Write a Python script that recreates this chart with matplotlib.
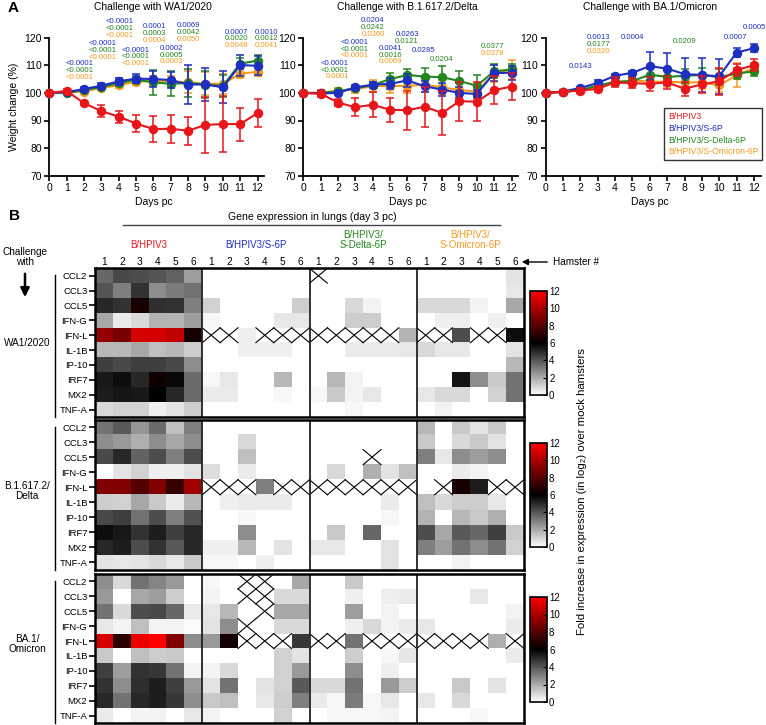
import numpy as np
import matplotlib
matplotlib.use('Agg')
import matplotlib.pyplot as plt
from matplotlib.colors import LinearSegmentedColormap
from matplotlib.lines import Line2D
from matplotlib.patches import FancyArrowPatch

plt.rcParams['font.family'] = ['Liberation Sans', 'DejaVu Sans']

nan = np.nan
# ---------------- Panel A data ----------------
days = list(range(13))
series_names = ['B/HPIV3', 'B/HPIV3/S-6P', 'B/HPIV3/S-Delta-6P', 'B/HPIV3/S-Omicron-6P']
series_colors = ['#e8161b', '#1c2fc0', '#23851f', '#f39a1e']

wa1_red = [100, 100.7, 96.3, 93.4, 91.4, 88.9, 86.9, 87.0, 86.3, 88.4, 88.7, 88.7, 92.7]
wa1_red_err = [0, 0.6, 0.8, 2.1, 2.2, 3.0, 4.8, 5.0, 5.0, 10.0, 10.0, 6.0, 5.1]
wa1_blue = [100, 100.3, 101.4, 102.6, 104.2, 105.2, 105.0, 104.7, 103.0, 103.1, 102.0, 110.1, 109.8]
wa1_blue_err = [0, 0.4, 0.6, 1.0, 1.2, 1.6, 2.8, 2.9, 7.0, 6.0, 5.8, 3.8, 3.4]
wa1_green = [100, 100.1, 101.0, 102.2, 103.5, 104.8, 103.8, 103.3, 103.6, 103.0, 102.5, 110.6, 111.7]
wa1_green_err = [0, 0.4, 0.6, 0.8, 1.0, 1.2, 4.5, 4.5, 5.0, 5.0, 4.0, 2.0, 2.0]
wa1_orange = [100, 100.2, 100.5, 101.8, 102.8, 104.0, 104.5, 104.2, 103.8, 103.4, 103.2, 107.0, 107.6]
wa1_orange_err = [0, 0.4, 0.6, 0.8, 1.0, 1.2, 1.5, 2.0, 4.0, 4.0, 3.5, 1.5, 1.5]

delta_red = [100, 99.7, 96.5, 94.8, 95.7, 93.9, 93.7, 95.0, 92.7, 97.0, 96.8, 101.0, 102.3]
delta_red_err = [0, 1.2, 1.3, 3.3, 4.5, 4.3, 7.0, 7.3, 8.0, 7.0, 7.0, 5.0, 5.0]
delta_blue = [100, 99.8, 100.0, 102.0, 103.0, 103.3, 104.5, 102.4, 101.2, 100.0, 99.6, 107.2, 107.3]
delta_blue_err = [0, 0.5, 0.6, 0.8, 1.0, 2.0, 2.3, 2.0, 2.5, 2.0, 1.5, 3.0, 2.5]
delta_green = [100, 100.0, 100.6, 101.7, 102.8, 105.0, 106.5, 105.9, 105.7, 104.3, 102.6, 107.8, 108.5]
delta_green_err = [0, 0.5, 0.6, 0.8, 1.0, 2.2, 2.3, 3.0, 4.0, 3.5, 4.0, 2.5, 2.0]
delta_orange = [100, 100.0, 100.8, 101.3, 102.5, 102.5, 102.5, 103.0, 102.0, 101.0, 100.5, 107.0, 108.5]
delta_orange_err = [0, 0.6, 0.8, 1.5, 2.0, 2.5, 2.5, 2.5, 2.5, 2.5, 3.0, 3.0, 3.5]

omi_red = [100, 100.5, 100.8, 101.5, 103.8, 103.5, 103.3, 103.8, 101.5, 103.1, 104.2, 108.3, 110.0]
omi_red_err = [0, 0.5, 0.8, 1.0, 1.8, 1.8, 2.5, 2.5, 2.5, 3.0, 5.0, 2.0, 2.2]
omi_blue = [100, 100.5, 101.8, 103.6, 106.2, 107.3, 109.7, 108.8, 106.8, 106.5, 106.0, 114.6, 116.2]
omi_blue_err = [0, 0.4, 0.5, 1.0, 0.6, 0.5, 5.0, 5.8, 5.8, 6.2, 6.3, 1.5, 1.4]
omi_green = [100, 100.3, 101.0, 102.7, 104.0, 104.3, 106.6, 105.8, 106.2, 106.5, 105.7, 107.0, 107.8]
omi_green_err = [0, 0.4, 0.5, 0.8, 1.0, 1.5, 2.0, 2.5, 2.5, 2.5, 3.0, 2.0, 1.5]
omi_orange = [100, 100.3, 101.0, 102.3, 103.8, 104.5, 104.1, 104.0, 103.8, 103.8, 102.7, 106.4, 109.0]
omi_orange_err = [0, 0.4, 0.5, 0.8, 1.2, 1.5, 1.5, 2.0, 2.0, 2.5, 2.5, 4.3, 2.0]

# p-value labels: (right edge in days, top line y, [blue, green, orange])
wa1_pvals = [
    (2.55, 110.5, ['<0.0001', '<0.0001', '<0.0001']),
    (3.90, 117.8, ['<0.0001', '<0.0001', '<0.0001']),
    (4.86, 125.8, ['<0.0001', '<0.0001', '<0.0001']),
    (5.79, 115.5, ['<0.0001', '<0.0001', '<0.0001']),
    (6.74, 124.0, ['0.0001', '0.0003', '0.0004']),
    (7.72, 116.1, ['0.0002', '0.0005', '0.0003']),
    (8.69, 124.4, ['0.0069', '0.0042', '0.0050']),
    (11.49, 122.0, ['0.0007', '0.0020', '0.0048']),
    (13.20, 122.0, ['0.0010', '0.0012', '0.0041']),
]
delta_pvals = [
    (2.63, 110.7, ['<0.0001', '<0.0001', '0.0001']),
    (3.74, 118.3, ['<0.0001', '<0.0001', '<0.0001']),
    (4.70, 126.2, ['0.0204', '0.0242', '0.0360']),
    (5.72, 116.1, ['0.0041', '0.0016', '0.0069']),
    (6.66, 121.2, ['0.0263', '0.0121', None]),
    (7.64, 115.2, ['0.0285', None, None]),
    (8.64, 114.7, [None, '0.0204', None]),
    (11.57, 119.1, [None, '0.0377', '0.0378']),
]
omi_pvals = [
    (2.70, 109.5, ['0.0143', None, None]),
    (3.73, 120.0, ['0.0013', '0.0177', '0.0320']),
    (5.70, 120.0, ['0.0004', None, None]),
    (8.66, 121.2, [None, '0.0209', None]),
    (11.63, 120.0, ['0.0007', None, None]),
    (12.68, 123.6, ['0.0005', None, None]),
]

# ---------------- Panel B data ----------------
genes = ['CCL2', 'CCL3', 'CCL5', 'IFN-G', 'IFN-L', 'IL-1B', 'IP-10', 'IRF7', 'MX2', 'TNF-A']
groups = ['B/HPIV3', 'B/HPIV3/S-6P', 'B/HPIV3/\nS-Delta-6P', 'B/HPIV3/\nS-Omicron-6P']
hamsters = [1, 2, 3, 4, 5, 6]
challenges = ['WA1/2020', 'B.1.617.2/\nDelta', 'BA.1/\nOmicron']

wa1_heat = [
    [3.6, 4.3, 4.2, 4.0, 3.7, 2.3,  0, 0, 0, 0, 0, 0,  nan, 0, 0, 0, 0, 0,  0, 0, 0, 0, 0, 0.7],
    [4.0, 3.0, 4.8, 2.7, 3.1, 3.3,  0, 0, 0, 0, 0, 0,  0, 0, 0, 0, 0, 0,  0, 0, 0, 0, 0, 0.6],
    [5.1, 4.8, 6.6, 4.9, 4.8, 3.0,  1.1, 0, 0, 0, 0, 1.2,  0, 0, 0.9, 0.3, 0, 0,  0.9, 0.9, 0.9, 0.3, 0, 2.1],
    [2.1, 0.5, 0.9, 1.8, 1.8, 2.3,  0.2, 0, 0, 0, 0.6, 0.6,  0, 0, 1.2, 1.2, 0, 0,  0, 0.4, 0.4, 0, 0.4, 0],
    [9.5, 8.8, 11.0, 11.0, 10.5, 6.5,  nan, nan, 0.4, nan, nan, nan,  nan, nan, nan, nan, nan, 1.8,  nan, nan, 4.2, nan, nan, 5.7],
    [1.7, 1.7, 2.1, 1.5, 1.7, 1.2,  0, 0, 0.4, 0.4, 0.4, 0,  0, 0, 0.5, 0.5, 0.5, 0.6,  0.9, 0.6, 0.6, 0, 0, 0.7],
    [4.5, 4.3, 4.5, 4.5, 4.3, 2.7,  0, 0, 0, 0, 0, 0,  0, 0, 0, 0, 0, 0,  0, 0, 0, 0, 0, 1.7],
    [5.4, 5.7, 5.1, 6.4, 5.8, 3.5,  0.2, 0.6, 0, 0, 1.7, 0,  0, 1.7, 0.3, 0, 0, 0,  0, 0, 5.5, 2.7, 1.3, 3.3],
    [5.3, 5.5, 5.4, 6.0, 5.1, 3.5,  0.5, 0.5, 0, 0, 0.2, 0,  0.2, 1.3, 0.3, 0.6, 0, 0,  0.6, 0.9, 0.9, 0, 1.1, 3.3],
    [0.9, 1.1, 1.1, 0.4, 0.7, 1.2,  0, 0, 0, 0, 0, 0,  0, 0, 0.2, 0, 0, 0,  0, 0.3, 0, 0, 0, 0],
]
delta_heat = [
    [3.3, 3.9, 2.5, 3.5, 1.5, 3.0,  0, 0, 0, 0, 0, 0,  0, 0, 0, 0, 0, 0,  1.7, 0, 1.3, 0.7, 1.3, 0],
    [2.7, 2.4, 1.9, 2.7, 2.1, 2.7,  0, 0, 0.9, 0, 0, 0,  0, 0, 0, 0, 0, 0,  1.3, 0, 0.9, 1.3, 0.7, 0],
    [4.3, 5.1, 3.7, 4.2, 3.0, 4.2,  0, 0, 1.5, 0, 0, 0,  0, 0, 0, nan, 0, 0,  3.0, 0.6, 2.7, 2.3, 2.7, 0],
    [0, 0.7, 1.1, 0.4, 0.4, 0.7,  0.8, 0, 0.5, 0, 0, 0,  0, 0.9, 0, 1.9, 0.7, 1.5,  0, 0, 0.5, 0.3, 0, 0],
    [9.0, 9.0, 8.0, 9.0, 7.3, 9.8,  nan, nan, nan, 3.0, nan, nan,  nan, nan, nan, nan, nan, nan,  0, nan, 6.6, 5.3, nan, nan],
    [1.2, 1.1, 2.1, 1.3, 0.5, 1.7,  0, 0.4, 0.5, 0.5, 0.5, 0,  0, 0, 0, 0, 0.5, 0,  1.5, 0.9, 1.2, 1.2, 0.6, 0],
    [4.3, 4.5, 3.3, 4.2, 3.0, 4.1,  0, 0, 0.2, 0, 0, 0,  0, 0, 0, 0, 0.2, 0,  1.8, 0, 1.7, 1.3, 1.9, 0],
    [5.7, 5.4, 4.8, 5.3, 4.5, 5.1,  0, 0, 2.7, 0, 0, 0,  0, 1.3, 0, 3.6, 0, 0,  4.2, 2.1, 3.9, 3.6, 4.5, 1.3],
    [5.1, 5.3, 4.2, 4.8, 3.9, 5.1,  0.4, 0.4, 1.7, 0, 0.7, 0,  0.6, 0.6, 0, 0, 0.7, 0,  3.0, 2.3, 3.3, 2.7, 3.3, 1.1],
    [0.7, 0.6, 0.7, 0.9, 0.6, 1.3,  0.2, 0.2, 0, 0.4, 0, 0,  0, 0, 0, 0, 0.7, 0,  0, 0, 0.3, 0, 0, 0],
]
omi_heat = [
    [2.7, 0.9, 3.3, 2.9, 2.4, 0,  0.2, 0, nan, nan, 0, 2.1,  0, 0, 1.3, 0, 0, 0,  0, 0, 0, 0, 0, 0],
    [2.4, 0, 2.1, 2.3, 1.2, 0,  0.3, 0, nan, nan, 0.9, 0.9,  0, 0, 0.4, 0, 0.4, 0.5,  0, 0, 0, 0.6, 0, 0],
    [3.3, 0.9, 4.2, 4.3, 3.6, 0.5,  0.6, 1.7, 0, nan, 2.1, 2.1,  0, 0, 2.3, 0, 0.3, 0,  0, 0, 0, 0, 0, 0.3],
    [0.6, 0.3, 1.5, 0.3, 0.3, 0.1,  0.7, 2.7, nan, 0, 0.9, 0.9,  0, 0, 0.4, 0.9, 0.3, 0.5,  0.6, 0, 0, 0, 0, 0.5],
    [11.0, 7.0, 11.5, 12.0, 9.0, 2.7,  2.4, 6.5, nan, nan, nan, 4.7,  nan, nan, 3.3, nan, nan, nan,  nan, nan, nan, nan, 1.9, nan],
    [1.3, 0, 1.5, 1.2, 1.3, 0,  0, 0, 0, 0, 1.1, 0.7,  0, 0, 1.2, 0, 0.2, 0.6,  0, 0, 0, 0, 0, 0.5],
    [4.5, 2.3, 4.8, 4.7, 3.3, 0.3,  0.3, 0.9, 0, 0, 1.1, 2.4,  0, 0, 2.7, 0, 0.4, 0,  0, 0, 0, 0, 0, 0],
    [4.8, 2.7, 4.9, 5.3, 4.5, 2.4,  0.7, 3.3, 0, 0.7, 1.1, 3.9,  0.9, 0.9, 3.3, 0, 2.4, 1.2,  0, 0, 1.3, 0, 0.7, 0],
    [5.1, 3.3, 5.1, 5.3, 4.7, 2.7,  1.3, 1.5, 0, 0.6, 1.2, 3.0,  0.5, 0.2, 3.1, 0.2, 0.6, 0,  0.6, 0, 0.9, 0, 0, 0],
    [0.5, 0, 0.3, 0.3, 0, 0.6,  0.3, 0, 0, 0, 1.1, 0,  0, 0.2, 0.2, 0.2, 0.3, 0,  0, 0, 0, 0.2, 0, 0],
]

# ---------------- figure ----------------
W, H = 766, 725
fig = plt.figure(figsize=(W / 100, H / 100), dpi=100)


def add_ax(x0, y0, x1, y1):
    return fig.add_axes([x0 / W, 1 - y1 / H, (x1 - x0) / W, (y1 - y0) / H])


def ftext(x, y, s, **kw):
    return fig.text(x / W, 1 - y / H, s, **kw)


ftext(13, 8, 'A', fontsize=11, fontweight='bold', ha='center', va='center')
ftext(14, 216, 'B', fontsize=11, fontweight='bold', ha='center', va='center')

panelA = [
    (49.3, 'Challenge with WA1/2020',
     [(wa1_orange, wa1_orange_err), (wa1_green, wa1_green_err), (wa1_blue, wa1_blue_err), (wa1_red, wa1_red_err)],
     wa1_pvals),
    (303.3, 'Challenge with B.1.617.2/Delta',
     [(delta_orange, delta_orange_err), (delta_green, delta_green_err), (delta_blue, delta_blue_err), (delta_red, delta_red_err)],
     delta_pvals),
    (545.7, 'Challenge with BA.1/Omicron',
     [(omi_orange, omi_orange_err), (omi_green, omi_green_err), (omi_blue, omi_blue_err), (omi_red, omi_red_err)],
     omi_pvals),
]
draw_colors = [series_colors[3], series_colors[2], series_colors[1], series_colors[0]]
pxday = 17.35
for i, (x0, title, sers, pvals) in enumerate(panelA):
    ax = add_ax(x0, 37.7, x0 + 12.4 * pxday, 175.7)
    for k, ((vals, errs), c) in enumerate(zip(sers, draw_colors)):
        cont = ax.errorbar(days, vals, yerr=errs, color=c, marker='o', ms=5.8, lw=1.5,
                           capsize=2.6, elinewidth=1.1, capthick=1.1, zorder=3 + k)
        cont.lines[0].set_clip_on(False)
        for art in cont.lines[1]:
            art.set_clip_on(False)
        for art in cont.lines[2]:
            art.set_clip_on(False)
    ax.set_xlim(0, 12.4)
    ax.set_ylim(70, 120)
    ax.set_xticks(range(13))
    ax.set_yticks(range(70, 121, 10))
    for s in ['top', 'right']:
        ax.spines[s].set_visible(False)
    for s in ['left', 'bottom']:
        ax.spines[s].set_linewidth(1.3)
    ax.tick_params(labelsize=7.5, width=1.2, length=3.5, pad=2)
    ftext(x0 + 6 * pxday, 7, title, fontsize=7.4, ha='center', va='center')
    ftext(x0 + 6 * pxday, 202, 'Days pc', fontsize=7.5, ha='center', va='center')
    pcols = [series_colors[1], series_colors[2], series_colors[3]]
    for (xr, ytop, texts) in pvals:
        for j, (t, pc) in enumerate(zip(texts, pcols)):
            if t is None:
                continue
            ax.text(xr, ytop - 2.45 * j, t, color=pc, fontsize=5.6, ha='right', va='center',
                    clip_on=False, zorder=10)
    if i == 0:
        ftext(14, 107, 'Weight change (%)', rotation=90, fontsize=7.5, ha='center', va='center')
    if i == 2:
        handles = [Line2D([], [], lw=0) for _ in series_names]
        leg = ax.legend(handles, series_names, loc='upper left',
                        bbox_to_anchor=(664 / W, 1 - 108 / H), bbox_transform=fig.transFigure,
                        handlelength=0, handletextpad=0, fontsize=6.2, frameon=True,
                        fancybox=False, edgecolor='black', borderpad=0.45, labelspacing=0.33,
                        borderaxespad=0)
        leg.get_frame().set_linewidth(1.0)
        for t, c in zip(leg.get_texts(), series_colors):
            t.set_color(c)

# ---------------- Panel B ----------------
cmap = LinearSegmentedColormap.from_list('wkr', [(0, 'white'), (0.5, 'black'), (1.0, '#ff0000')])
cmap.set_bad('white')

hx0, hx1 = 95, 524
cw = (hx1 - hx0) / 24
blocks = [(268.3, 417.0, wa1_heat), (419.5, 570.0, delta_heat), (574.0, 723.0, omi_heat)]
cbars = [(291, 395), (443, 547), (597, 702)]
label_y = [343, 491, 644]

ftext(312, 217, 'Gene expression in lungs (day 3 pc)', fontsize=7.6, ha='center', va='center')
fig.add_artist(Line2D([123 / W, 500 / W], [1 - 225 / H, 1 - 225 / H], color='#444444', lw=1.0))

for g, (name, c) in enumerate(zip(groups, series_colors)):
    cx = hx0 + (g * 6 + 3) * cw
    ftext(cx, 250, name, fontsize=7, color=c, ha='center', va='bottom', linespacing=1.05)
    for h in hamsters:
        ftext(hx0 + (g * 6 + h - 0.5) * cw, 262, str(h), fontsize=7.3, ha='center', va='center')

ftext(553, 262, 'Hamster #', fontsize=7.2, ha='left', va='center')
fig.add_artist(FancyArrowPatch((550 / W, 1 - 262 / H), (519 / W, 1 - 262 / H),
                               transform=fig.transFigure, arrowstyle='-|>', mutation_scale=9,
                               lw=1.0, color='black'))
ftext(25, 252, 'Challenge', fontsize=7.2, ha='center', va='center')
ftext(25, 262, 'with', fontsize=7.2, ha='center', va='center')
fig.add_artist(FancyArrowPatch((25 / W, 1 - 271 / H), (25 / W, 1 - 300 / H),
                               transform=fig.transFigure, arrowstyle='-|>', mutation_scale=13,
                               lw=1.8, color='black'))

for b, ((y0, y1, data), (cb0, cb1), ly, chal) in enumerate(zip(blocks, cbars, label_y, challenges)):
    arr = np.array(data, dtype=float)
    ax = add_ax(hx0, y0, hx1, y1)
    im = ax.imshow(arr, cmap=cmap, vmin=0, vmax=12, aspect='auto', interpolation='nearest',
                   extent=(-0.5, 23.5, 9.5, -0.5))
    for r in range(arr.shape[0]):
        for cc in range(arr.shape[1]):
            if np.isnan(arr[r, cc]):
                ax.plot([cc - 0.5, cc + 0.5], [r - 0.5, r + 0.5], color='black', lw=0.8)
                ax.plot([cc - 0.5, cc + 0.5], [r + 0.5, r - 0.5], color='black', lw=0.8)
    for xv in [5.5, 11.5, 17.5]:
        ax.axvline(xv, color='#222222', lw=1.3)
    ax.set_xlim(-0.5, 23.5)
    ax.set_ylim(9.5, -0.5)
    ax.set_xticks([])
    ax.set_yticks(range(len(genes)))
    ax.set_yticklabels(genes)
    ax.tick_params(axis='y', labelsize=6.8, length=4, width=1.2, pad=1.5)
    for s in ax.spines.values():
        s.set_linewidth(1.8)
    fig.add_artist(Line2D([55 / W, 55 / W], [1 - (y0 + 7) / H, 1 - y1 / H], color='black', lw=1.0))
    ftext(27, ly, chal, fontsize=7.2, ha='center', va='center', linespacing=1.1)
    cax = add_ax(530, cb0, 547, cb1)
    cb = fig.colorbar(im, cax=cax, ticks=range(0, 13, 2))
    cb.ax.tick_params(labelsize=7, length=3, width=0.8, direction='in', pad=1.5)
    cb.outline.set_linewidth(1.2)

ftext(582, 492, 'Fold increase in expression (in log\u2082) over mock hamsters', rotation=90,
      fontsize=8.2, ha='center', va='center')

fig.savefig('out.png', dpi=100)
